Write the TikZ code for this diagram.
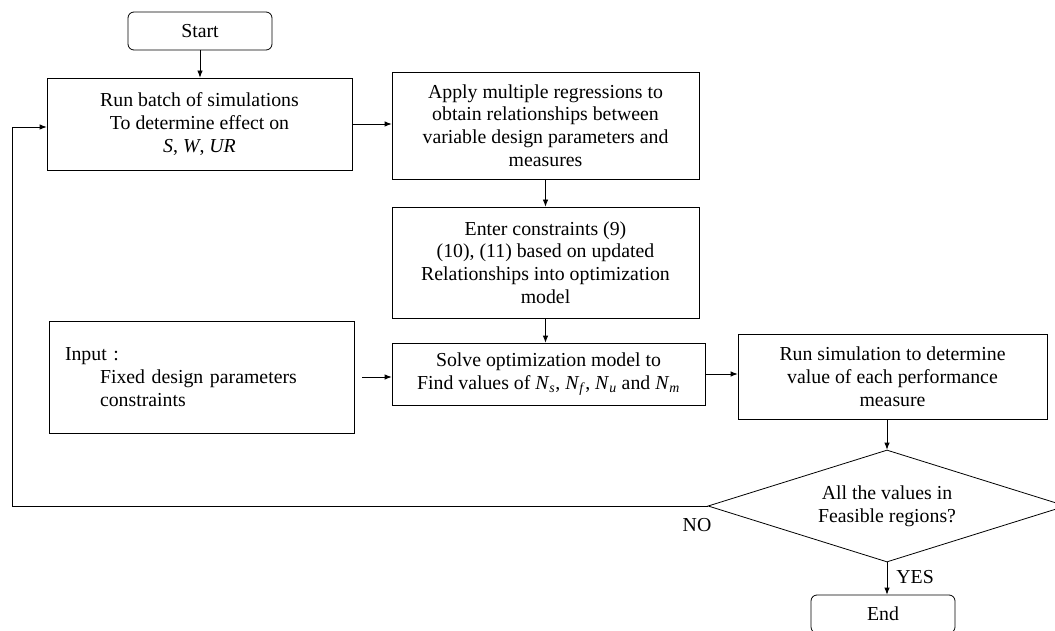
\documentclass[tikz,border=0pt]{standalone}
\usepackage{fontspec}
\setmainfont{Liberation Serif}
\usetikzlibrary{positioning, shapes.geometric, arrows.meta}
\newcommand{\Nsub}[1]{\textit{N}\textsubscript{\textit{#1}}}

\begin{document}
\begin{tikzpicture}[
    x=1pt, y=-1pt, line width=0.8pt,
    every node/.style={font=\fontsize{19.8}{22.8}\selectfont},
    term/.style={draw, rounded corners=6pt, inner sep=0pt,
                 minimum width=144pt, minimum height=38pt},
    proc/.style={draw, align=center, inner sep=0pt},
    dec/.style={draw, diamond, shape aspect=3.2, inner sep=0pt, align=center,
                minimum width=358pt, minimum height=112pt},
    link/.style={-{Latex[length=7pt, width=5.5pt]}},
    lbl/.style={inner sep=0pt},
  ]
    \useasboundingbox (0,0) rectangle (1055,631);

    \node[term] (start) at (200,31) {Start};
    \node[proc, minimum width=305pt, minimum height=92pt] (batch) at (199.5,124)
      {Run batch of simulations\\ To determine effect on\\ \textit{S}, \textit{W}, \textit{UR}};
    \node[proc, minimum width=307pt, minimum height=107pt] (regr) at (545.5,125.5)
      {Apply multiple regressions to\\ obtain relationships between\\
       variable design parameters and\\ measures};
    \node[proc, minimum width=307pt, minimum height=111pt] (cons) at (545.5,262.5)
      {Enter constraints (9)\\ (10), (11) based on updated\\
       Relationships into optimization\\ model};
    \node[proc, align=left, text width=273pt, inner xsep=16pt,
          minimum height=112pt] (input) at (201.5,377)
      {Input :\\ \hspace*{35pt}Fixed design parameters\\ \hspace*{35pt}constraints};
    \node[proc, minimum width=313pt, minimum height=62pt] (solve) at (548.5,374)
      {Solve optimization model to\\
       Find values of \Nsub{s}, \Nsub{f}, \Nsub{u} and \Nsub{m}};
    \node[proc, minimum width=309pt, minimum height=85pt] (sim) at (892.5,376.5)
      {Run simulation to determine\\ value of each performance\\ measure};
    \node[dec] (feas) at (887,506) {All the values in\\ Feasible regions?};
    \node[term] (end) at (883,614) {End};

    % edge labels
    \node[lbl] (no) at (697,525) {NO};
    \node[lbl, anchor=west] (yes) at (896,577) {YES};

    % main flow
    \draw[link] (start.south) -- (start.south |- batch.north);
    \draw[link] (batch.east) -- (batch.east -| regr.west);
    \draw[link] (regr.south) -- (regr.south |- cons.north);
    \draw[link] (cons.south) -- (cons.south |- solve.north);
    \draw[link, shorten <=8pt] (input.east) -- (input.east -| solve.west);
    \draw[link] (solve.east) -- (solve.east -| sim.west);
    \draw[link] (sim.south -| feas.north) -- (feas.north);
    \draw[link] (feas.south) -- (feas.south |- end.north);
    % back to the simulations
    \coordinate (ret) at (12,127);
    \draw[link] (feas.west) -| (ret) -- (ret -| batch.west);
  \end{tikzpicture}
\end{document}
